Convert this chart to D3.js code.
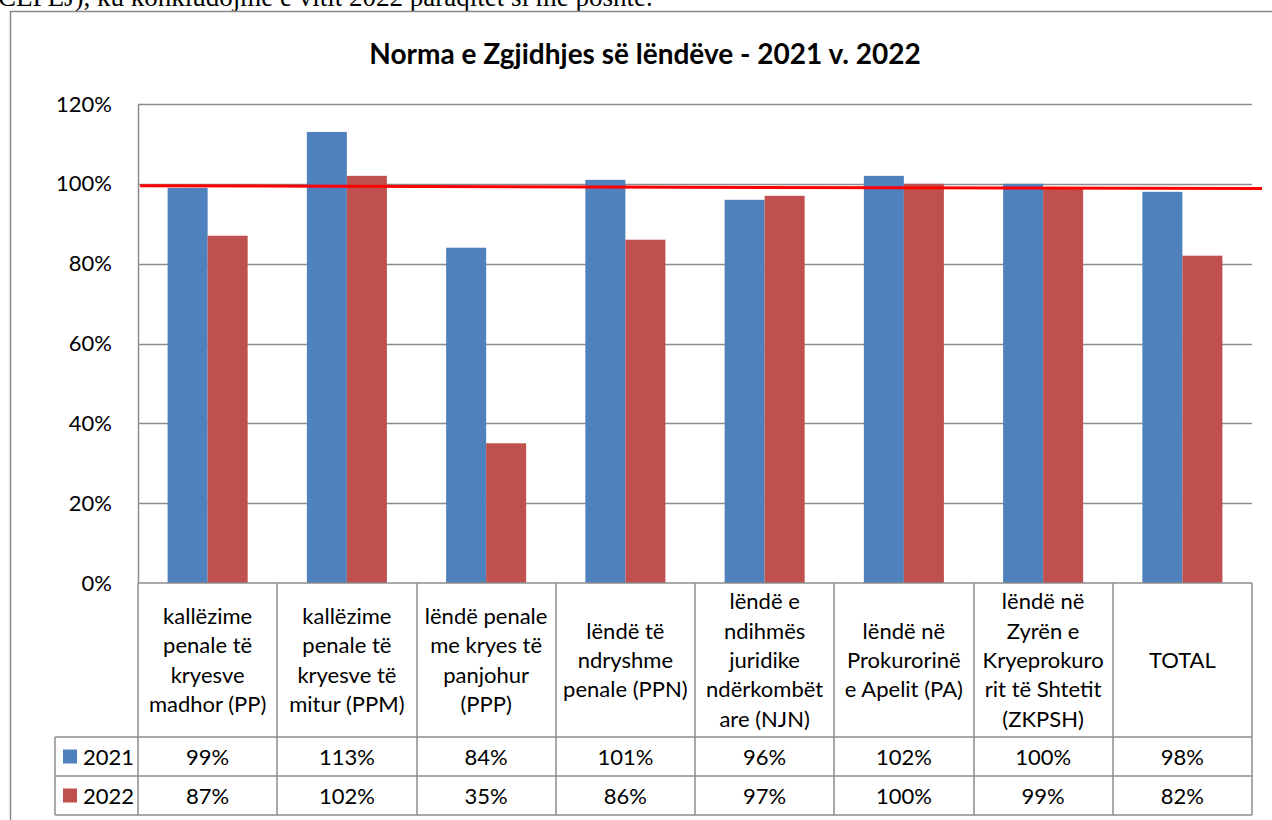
<!DOCTYPE html>
<html>
<head>
<meta charset="utf-8">
<script src="https://cdn.jsdelivr.net/npm/d3@7"></script>
<style>
    body { margin: 0; background: #fff; }
    svg { display: block; }
</style>
</head>
<body>
<svg id="drawing_region"></svg>
<script>
// data
const categories = [
    ['kallëzime', 'penale të', 'kryesve', 'madhor (PP)'],
    ['kallëzime', 'penale të', 'kryesve të', 'mitur (PPM)'],
    ['lëndë penale', 'me kryes të', 'panjohur', '(PPP)'],
    ['lëndë të', 'ndryshme', 'penale (PPN)'],
    ['lëndë e', 'ndihmës', 'juridike', 'ndërkombët', 'are (NJN)'],
    ['lëndë në', 'Prokurorinë', 'e Apelit (PA)'],
    ['lëndë në', 'Zyrën e', 'Kryeprokuro', 'rit të Shtetit', '(ZKPSH)'],
    ['TOTAL']
];
const series = ['2021', '2022'];
const values2021 = [0.99, 1.13, 0.84, 1.01, 0.96, 1.02, 1.00, 0.98];
const values2022 = [0.87, 1.02, 0.35, 0.86, 0.97, 1.00, 0.99, 0.82];
const yTicks = [0, 0.2, 0.4, 0.6, 0.8, 1.0, 1.2];
// hand drawn red reference line (start / end value)
const redLine = [0.995, 0.988];

const colors = {'2021': '#4F81BD', '2022': '#C0504D'};
const font = 'Lato, "Open Sans", sans-serif';

const width = 1272, height = 820;
const plot = {left: 138, right: 1252, top: 104, bottom: 583};
const headerBottom = 737, rowH = 39, legendLeft = 55;
const cellFont = 22;

const svg = d3.select('#drawing_region')
    .attr('width', width)
    .attr('height', height);

// piece of the document text above the chart
svg.append('text')
    .attr('x', -2).attr('y', 6)
    .attr('font-family', '"Liberation Serif", "DejaVu Serif", serif')
    .attr('font-size', 27)
    .attr('fill', '#000')
    .text('CEPEJ), ku konkludojmë e vitit 2022 paraqitet si më poshtë.');

// chart frame
svg.append('rect')
    .attr('x', 10.5).attr('y', 11.5)
    .attr('width', 1400).attr('height', 900)
    .attr('fill', '#fff')
    .attr('stroke', '#888').attr('stroke-width', 1.5);

svg.append('text')
    .attr('x', 645).attr('y', 64)
    .attr('text-anchor', 'middle')
    .attr('font-family', font)
    .attr('font-weight', 'bold')
    .attr('font-size', 28)
    .text('Norma e Zgjidhjes së lëndëve - 2021 v. 2022');

const keys = categories.map((c, i) => i);
const xscale = d3.scaleBand().domain(keys).range([plot.left, plot.right]);
const xinner = d3.scaleBand().domain(series).range([0, xscale.bandwidth()]).paddingOuter(0.74);
const yscale = d3.scaleLinear().domain([0, 1.2]).range([plot.bottom, plot.top]);

// gridlines
svg.append('g')
    .selectAll('line')
    .data(yTicks.filter(d => d > 0))
    .join('line')
    .attr('x1', plot.left).attr('x2', plot.right)
    .attr('y1', d => Math.round(yscale(d)) + 0.5)
    .attr('y2', d => Math.round(yscale(d)) + 0.5)
    .attr('stroke', '#8c8c8c').attr('stroke-width', 1.5);

// y axis
const yaxis = d3.axisLeft(yscale)
    .tickValues(yTicks)
    .tickFormat(d3.format('.0%'))
    .tickSize(0)
    .tickPadding(26);
const yg = svg.append('g')
    .attr('transform', `translate(${plot.left}, 0)`)
    .call(yaxis);
yg.select('.domain').attr('stroke', '#8c8c8c').attr('stroke-width', 1.5);
yg.selectAll('text')
    .attr('font-family', font)
    .attr('font-size', 22)
    .attr('fill', '#000');

// bars
const rows = keys.map(i => ({key: i, '2021': values2021[i], '2022': values2022[i]}));
svg.append('g')
    .selectAll('g')
    .data(rows)
    .join('g')
    .attr('transform', d => `translate(${xscale(d.key)}, 0)`)
    .selectAll('rect')
    .data(d => series.map(s => ({s, v: d[s]})))
    .join('rect')
    .attr('x', d => xinner(d.s))
    .attr('y', d => yscale(d.v))
    .attr('width', xinner.bandwidth())
    .attr('height', d => plot.bottom - yscale(d.v))
    .attr('fill', d => colors[d.s]);

// red reference line
svg.append('line')
    .attr('x1', plot.left + 2).attr('x2', 1262)
    .attr('y1', yscale(redLine[0])).attr('y2', yscale(redLine[1]))
    .attr('stroke', '#FF0000').attr('stroke-width', 3);

// data table
const table = svg.append('g')
    .attr('stroke', '#8c8c8c').attr('stroke-width', 1.5);
table.append('line')
    .attr('x1', plot.left).attr('x2', plot.right)
    .attr('y1', plot.bottom).attr('y2', plot.bottom);
[0, 1, 2].forEach(r => {
    const y = headerBottom + r * rowH;
    table.append('line')
        .attr('x1', legendLeft).attr('x2', plot.right)
        .attr('y1', y).attr('y2', y);
});
const bounds = keys.map(i => xscale(i)).concat([plot.right]);
table.selectAll('line.v')
    .data(bounds)
    .join('line')
    .attr('class', 'v')
    .attr('x1', d => Math.round(d)).attr('x2', d => Math.round(d))
    .attr('y1', plot.bottom).attr('y2', headerBottom + 2 * rowH);
table.append('line')
    .attr('x1', legendLeft).attr('x2', legendLeft)
    .attr('y1', headerBottom).attr('y2', headerBottom + 2 * rowH);

// header labels
const lineH = 29.3;
const headerMid = (plot.bottom + headerBottom) / 2;
svg.append('g')
    .selectAll('text')
    .data(keys)
    .join('text')
    .attr('x', d => xscale(d) + xscale.bandwidth() / 2)
    .attr('y', d => headerMid - (categories[d].length - 1) * lineH / 2 + 8)
    .attr('text-anchor', 'middle')
    .attr('font-family', font)
    .attr('font-size', cellFont)
    .selectAll('tspan')
    .data(d => categories[d])
    .join('tspan')
    .attr('x', function() { return this.parentNode.getAttribute('x'); })
    .attr('dy', (d, i) => i === 0 ? 0 : lineH)
    .text(d => d);

// value rows with legend keys
const pct = d3.format('.0%');
[values2021, values2022].forEach((vals, r) => {
    const cy = headerBottom + r * rowH + rowH / 2;
    svg.append('rect')
        .attr('x', 63).attr('y', cy - 7)
        .attr('width', 14).attr('height', 14)
        .attr('fill', colors[series[r]]);
    svg.append('text')
        .attr('x', 83).attr('y', cy + 8)
        .attr('font-family', font).attr('font-size', cellFont)
        .text(series[r]);
    svg.append('g')
        .selectAll('text')
        .data(vals)
        .join('text')
        .attr('x', (d, i) => xscale(i) + xscale.bandwidth() / 2)
        .attr('y', cy + 8)
        .attr('text-anchor', 'middle')
        .attr('font-family', font).attr('font-size', cellFont)
        .text(d => pct(d));
});
</script>
</body>
</html>
